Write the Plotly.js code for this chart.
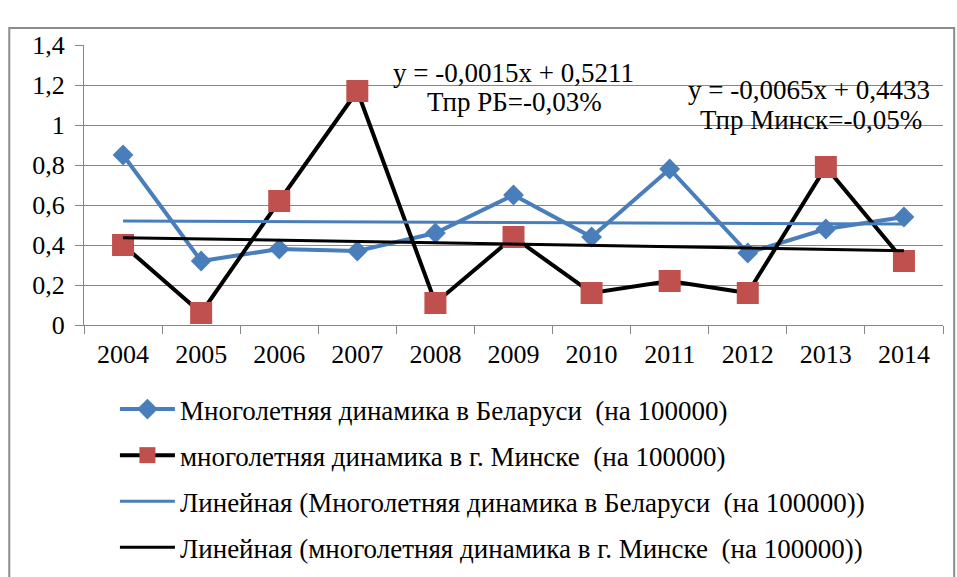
<!DOCTYPE html>
<html>
<head>
<meta charset="utf-8">
<script src="https://cdn.plot.ly/plotly-3.0.1.min.js"></script>
<style>
html,body{margin:0;padding:0;background:#fff;}
#chart{width:957px;height:577px;}
</style>
</head>
<body>
<div id="chart"></div>
<script>
// ---- data ----
const years = ['2004','2005','2006','2007','2008','2009','2010','2011','2012','2013','2014'];
const belarus = [0.85,0.32,0.38,0.37,0.46,0.65,0.44,0.78,0.36,0.48,0.54];
const minsk   = [0.40,0.06,0.62,1.17,0.11,0.44,0.16,0.22,0.16,0.79,0.32];
// trend equations shown on the chart: [slope, intercept], x = 1..11
const trendBelarus = [-0.0015, 0.5211];
const trendMinsk   = [-0.0065, 0.4433];
const yTickVals = [0,0.2,0.4,0.6,0.8,1,1.2,1.4];
const yTickText = ['0','0,2','0,4','0,6','0,8','1','1,2','1,4'];
const seriesNames = [
  'Многолетняя динамика в Беларуси  (на 100000)',
  'многолетняя динамика в г. Минске  (на 100000)',
  'Линейная (Многолетняя динамика в Беларуси  (на 100000))',
  'Линейная (многолетняя динамика в г. Минске  (на 100000))'
];
const labelBelarus = ['y = -0,0015x + 0,5211', 'Тпр РБ=-0,03%'];
const labelMinsk   = ['y = -0,0065x + 0,4433', 'Тпр Минск=-0,05%'];

const FONT = 'Liberation Serif, Times New Roman, DejaVu Serif, serif';
const BLUE = '#4A7EBB';
const RED = '#C0504D';

function trendEnds(t){
  const n = years.length;
  return [t[1] + t[0]*1, t[1] + t[0]*n];
}
const trendX = [years[0], years[years.length-1]];

const traces = [
  {x: years, y: belarus, name: seriesNames[0], type:'scatter', mode:'lines+markers',
   line:{color:BLUE, width:4}, marker:{symbol:'diamond', size:16, color:BLUE},
   legendgroup:'a'},
  {x: years, y: minsk, name: seriesNames[1], type:'scatter', mode:'lines+markers',
   line:{color:'#000000', width:4}, marker:{symbol:'square', size:22, color:RED},
   legendgroup:'b'},
  {x: trendX, y: trendEnds(trendBelarus), name: seriesNames[2], type:'scatter', mode:'lines',
   line:{color:BLUE, width:3}, legendgroup:'c'},
  {x: trendX, y: trendEnds(trendMinsk), name: seriesNames[3], type:'scatter', mode:'lines',
   line:{color:'#000000', width:3}, legendgroup:'d'}
];

// pixel helpers for annotation placement (plot area 84..943 x 45..325)
const px = v => (v-84)/859;
const py = v => (325-v)/280;
const annFont = {family:FONT, size:27, color:'#000000'};

const layout = {
  width:957, height:577,
  margin:{l:84, r:14, t:45, b:252},
  paper_bgcolor:'#ffffff', plot_bgcolor:'#ffffff',
  font:{family:FONT, size:26, color:'#000000'},
  showlegend:true,
  legend:{
    orientation:'v', x:0.036, xanchor:'left',
    yref:'container', y:(577-385)/577, yanchor:'top',
    font:{family:FONT, size:27, color:'#000000'},
    traceorder:'grouped', tracegroupgap:8, itemwidth:55,
    bgcolor:'rgba(0,0,0,0)'
  },
  xaxis:{
    type:'category', tickson:'boundaries', ticks:'outside', ticklen:8, tickcolor:'#868686',
    showline:true, linecolor:'#868686', linewidth:1, showgrid:false, zeroline:false,
    tickfont:{family:FONT, size:26, color:'#000000'}, ticklabelstandoff:6,
    range:[-0.5, 10.5], fixedrange:true
  },
  yaxis:{
    range:[0,1.4], tickvals:yTickVals, ticktext:yTickText,
    ticks:'outside', ticklen:8, tickcolor:'#868686',
    showline:true, linecolor:'#868686', linewidth:1,
    showgrid:true, gridcolor:'#868686', gridwidth:1, zeroline:false,
    tickfont:{family:FONT, size:26, color:'#000000'}, ticklabelstandoff:5,
    fixedrange:true
  },
  annotations:[
    {xref:'paper', yref:'paper', x:px(513), y:py(73), xanchor:'center', yanchor:'middle',
     text:labelBelarus[0], showarrow:false, font:annFont},
    {xref:'paper', yref:'paper', x:px(514), y:py(102), xanchor:'center', yanchor:'middle',
     text:labelBelarus[1], showarrow:false, font:annFont},
    {xref:'paper', yref:'paper', x:px(809), y:py(90), xanchor:'center', yanchor:'middle',
     text:labelMinsk[0], showarrow:false, font:annFont},
    {xref:'paper', yref:'paper', x:px(811), y:py(120), xanchor:'center', yanchor:'middle',
     text:labelMinsk[1], showarrow:false, font:annFont}
  ],
  shapes:[
    {type:'rect', xref:'paper', yref:'paper', x0:-0.087, x1:1.013, y0:-1.1, y1:py(28),
     line:{color:'#8c8c8c', width:2}, fillcolor:'rgba(0,0,0,0)', layer:'below'}
  ]
};

Plotly.newPlot('chart', traces, layout, {displayModeBar:false, staticPlot:true});
</script>
</body>
</html>
